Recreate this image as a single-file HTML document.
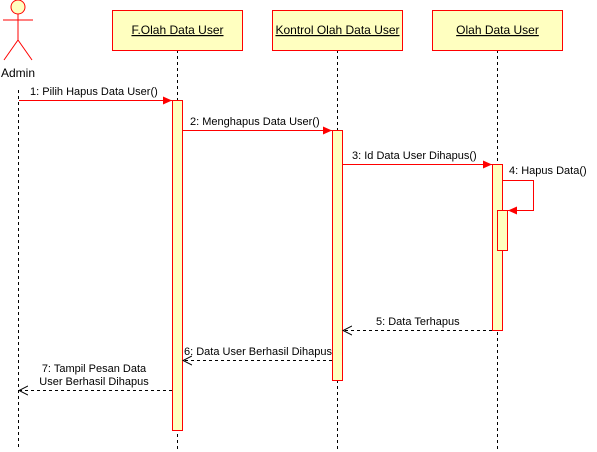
<!DOCTYPE html>
<html><head><meta charset="utf-8"><style>body{margin:0;background:#fff}svg{display:block}</style></head>
<body>
<svg width="597" height="452" xmlns="http://www.w3.org/2000/svg" font-family="Liberation Sans, sans-serif" font-size="11" fill="#000">
<defs>
<marker id="f" markerWidth="10" markerHeight="10" refX="9" refY="5" orient="auto" markerUnits="userSpaceOnUse"><path d="M0,1 L9,5 L0,9 Z" fill="#f00"/></marker>
<marker id="o" markerWidth="10" markerHeight="10" refX="9" refY="5" orient="auto" markerUnits="userSpaceOnUse"><path d="M0,0.5 L9,5 L0,9.5" fill="none" stroke="#000"/></marker>
</defs>
<!-- actor -->
<g stroke="#f00" stroke-width="1" fill="none">
<circle cx="18" cy="7" r="7" fill="#ffffc0"/>
<line x1="18" y1="14" x2="18" y2="40"/>
<line x1="3" y1="20" x2="33" y2="20"/>
<line x1="18" y1="40" x2="4" y2="60"/>
<line x1="18" y1="40" x2="32" y2="60"/>
</g>
<text x="18" y="77" text-anchor="middle" font-size="12">Admin</text>
<!-- lifelines -->
<g stroke="#000" stroke-dasharray="3,3">
<line x1="18.5" y1="90" x2="18.5" y2="450"/>
<line x1="177.5" y1="50" x2="177.5" y2="450"/>
<line x1="337.5" y1="50" x2="337.5" y2="450"/>
<line x1="497.5" y1="50" x2="497.5" y2="450"/>
</g>
<!-- boxes -->
<g stroke="#f00" fill="#ffffc0">
<rect x="112.5" y="10.5" width="130" height="40"/>
<rect x="272.5" y="10.5" width="130" height="40"/>
<rect x="432.5" y="10.5" width="130" height="40"/>
</g>
<g font-size="12" text-anchor="middle" text-decoration="underline">
<text x="177.5" y="34">F.Olah Data User</text>
<text x="337.5" y="34">Kontrol Olah Data User</text>
<text x="497.5" y="34">Olah Data User</text>
</g>
<!-- activations -->
<g stroke="#f00" fill="#ffffc0">
<rect x="172.5" y="100.5" width="10" height="330"/>
<rect x="332.5" y="130.5" width="10" height="250"/>
<rect x="492.5" y="164.5" width="10" height="166"/>
<rect x="497.5" y="210.5" width="10" height="40"/>
</g>
<!-- messages -->
<g stroke="#f00" fill="none">
<line x1="19" y1="100.5" x2="172" y2="100.5" marker-end="url(#f)"/>
<line x1="183" y1="130.5" x2="332" y2="130.5" marker-end="url(#f)"/>
<line x1="343" y1="164.5" x2="492" y2="164.5" marker-end="url(#f)"/>
<polyline points="503,180.5 533.5,180.5 533.5,210.5 508,210.5" marker-end="url(#f)"/>
</g>
<g stroke="#000" fill="none" stroke-dasharray="3,3">
<line x1="492" y1="330.5" x2="343" y2="330.5" marker-end="url(#o)"/>
<line x1="332" y1="360.5" x2="183" y2="360.5" marker-end="url(#o)"/>
<line x1="172" y1="390.5" x2="19" y2="390.5" marker-end="url(#o)"/>
</g>
<text x="30" y="95">1: Pilih Hapus Data User()</text>
<text x="190" y="125">2: Menghapus Data User()</text>
<text x="352" y="159">3: Id Data User Dihapus()</text>
<text x="509" y="174">4: Hapus Data()</text>
<text x="376" y="325">5: Data Terhapus</text>
<text x="184" y="355">6: Data User Berhasil Dihapus</text>
<text x="94" y="372" text-anchor="middle">7: Tampil Pesan Data</text>
<text x="94" y="385" text-anchor="middle">User Berhasil Dihapus</text>
</svg>
</body></html>
